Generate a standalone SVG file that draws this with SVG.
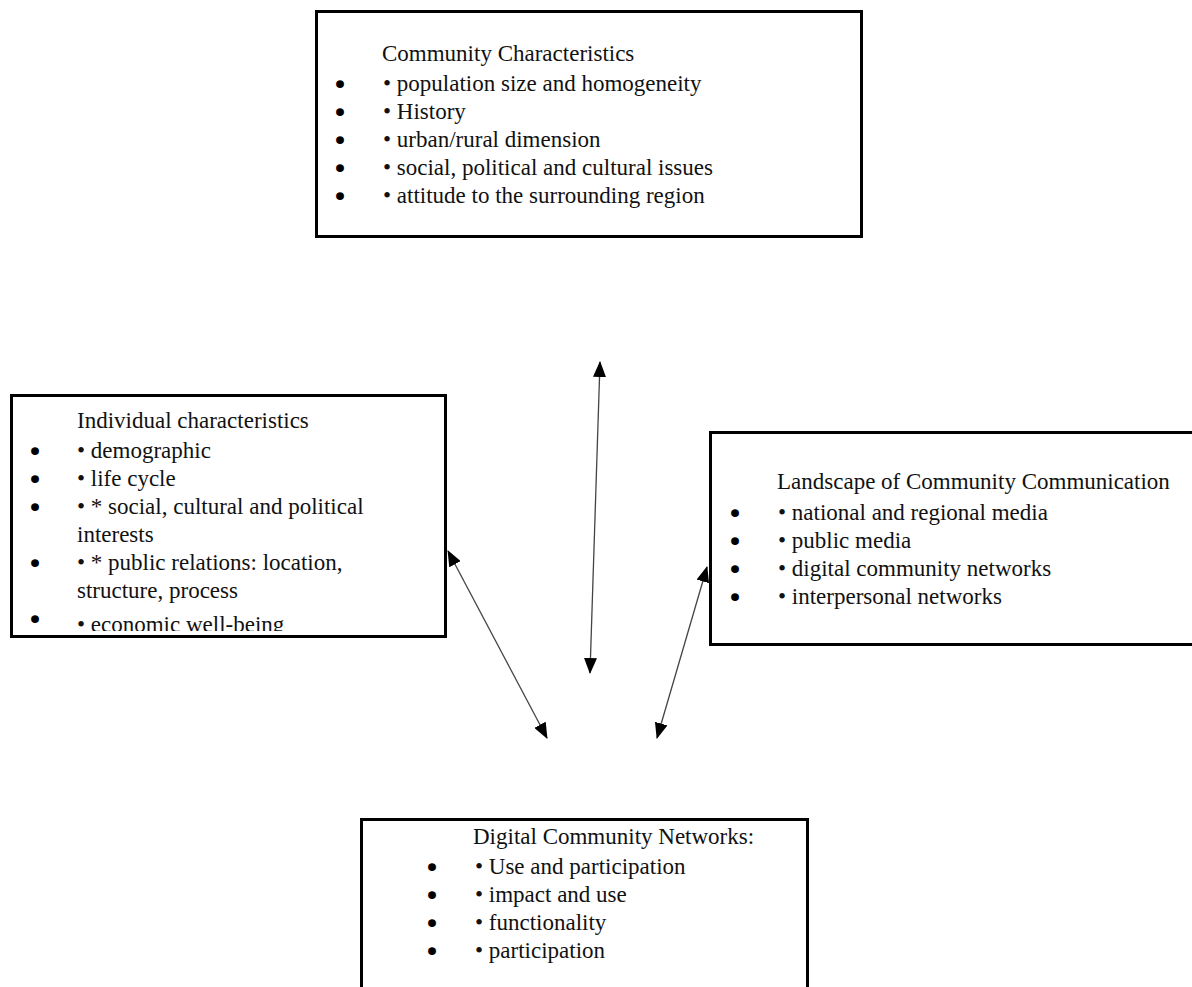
<svg xmlns="http://www.w3.org/2000/svg" width="1192" height="987" viewBox="0 0 1192 987">
<style>
  .box { fill: #ffffff; stroke: #000000; stroke-width: 3; }
  .t { font-family: "Liberation Serif", "Times New Roman", serif; font-size: 23px; fill: #111111; }
  .b { font-family: "Liberation Serif", "Times New Roman", serif; font-size: 23px; font-weight: bold; fill: #000000; stroke: #000000; stroke-width: 1.6; text-anchor: middle; }
  .conn { stroke: #444444; stroke-width: 1.3; fill: none; marker-start: url(#ah); marker-end: url(#ah); }
</style>
<defs>
  <marker id="ah" viewBox="0 0 16 13" refX="15" refY="6.5" markerWidth="16" markerHeight="13" markerUnits="userSpaceOnUse" orient="auto-start-reverse">
    <path d="M0,0 L16,6.5 L0,13 z" fill="#000000"/>
  </marker>
  <clipPath id="clipLeft">
    <rect x="10" y="395" width="437" height="236"/>
  </clipPath>
</defs>
<rect width="1192" height="987" fill="#ffffff"/>

<g id="community">
  <rect class="box" x="316.5" y="11.5" width="545" height="225"/>
  <text class="t" x="382" y="61">Community Characteristics</text>
  <text class="b" x="340" y="92">•</text><text class="t" x="383" y="91">• population size and homogeneity</text>
  <text class="b" x="340" y="120">•</text><text class="t" x="383" y="119">• History</text>
  <text class="b" x="340" y="148">•</text><text class="t" x="383" y="147">• urban/rural dimension</text>
  <text class="b" x="340" y="176">•</text><text class="t" x="383" y="175">• social, political and cultural issues</text>
  <text class="b" x="340" y="204">•</text><text class="t" x="383" y="203">• attitude to the surrounding region</text>
</g>

<g id="individual">
  <rect class="box" x="11.5" y="395.5" width="434" height="241"/>
  <g clip-path="url(#clipLeft)">
    <text class="t" x="77" y="428">Individual characteristics</text>
    <text class="b" x="35" y="459">•</text><text class="t" x="77" y="458">• demographic</text>
    <text class="b" x="35" y="487">•</text><text class="t" x="77" y="486">• life cycle</text>
    <text class="b" x="35" y="515">•</text><text class="t" x="77" y="514">• * social, cultural and political</text>
    <text class="t" x="77" y="542">interests</text>
    <text class="b" x="35" y="571">•</text><text class="t" x="77" y="570">• * public relations: location,</text>
    <text class="t" x="77" y="598">structure, process</text>
    <text class="b" x="35" y="627">•</text><text class="t" x="77" y="632">• economic well-being</text>
  </g>
</g>

<g id="landscape">
  <rect class="box" x="710.5" y="432.5" width="500" height="212"/>
  <text class="t" x="777" y="489">Landscape of Community Communication</text>
  <text class="b" x="735" y="521">•</text><text class="t" x="778" y="520">• national and regional media</text>
  <text class="b" x="735" y="549">•</text><text class="t" x="778" y="548">• public media</text>
  <text class="b" x="735" y="577">•</text><text class="t" x="778" y="576">• digital community networks</text>
  <text class="b" x="735" y="605">•</text><text class="t" x="778" y="604">• interpersonal networks</text>
</g>

<g id="digital">
  <rect class="box" x="361.5" y="819.5" width="446" height="200"/>
  <text class="t" x="473" y="844">Digital Community Networks:</text>
  <text class="b" x="432" y="875">•</text><text class="t" x="475" y="874">• Use and participation</text>
  <text class="b" x="432" y="903">•</text><text class="t" x="475" y="902">• impact and use</text>
  <text class="b" x="432" y="931">•</text><text class="t" x="475" y="930">• functionality</text>
  <text class="b" x="432" y="959">•</text><text class="t" x="475" y="958">• participation</text>
</g>

<g id="connectors">
  <line class="conn" x1="600" y1="362" x2="590" y2="673"/>
  <line class="conn" x1="448" y1="551" x2="547" y2="738"/>
  <line class="conn" x1="707" y1="567" x2="657" y2="738"/>
</g>
</svg>
